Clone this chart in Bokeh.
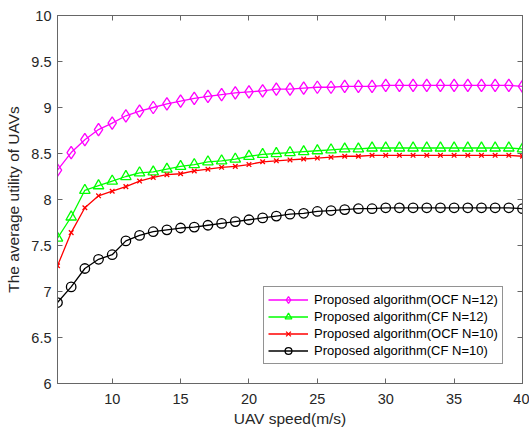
from bokeh.plotting import figure
from bokeh.models import (LinearAxis, FixedTicker, Legend, LegendItem, Range1d,
                          CustomLabelingPolicy)
from bokeh.embed import file_html
from bokeh.resources import INLINE

# ---- data ----
speed = [6, 7, 8, 9, 10, 11, 12, 13, 14, 15, 16, 17, 18, 19, 20, 21, 22, 23,
         24, 25, 26, 27, 28, 29, 30, 31, 32, 33, 34, 35, 36, 37, 38, 39, 40]
ocf_n12 = [8.32, 8.51, 8.65, 8.76, 8.83, 8.91, 8.96, 9.00, 9.04, 9.07, 9.10, 9.12,
           9.14, 9.16, 9.17, 9.18, 9.20, 9.20, 9.21, 9.22, 9.22, 9.23, 9.23, 9.23,
           9.24, 9.24, 9.24, 9.24, 9.24, 9.24, 9.24, 9.24, 9.24, 9.24, 9.23]
cf_n12 = [7.58, 7.81, 8.10, 8.15, 8.20, 8.25, 8.29, 8.30, 8.33, 8.36, 8.38, 8.41,
          8.42, 8.44, 8.47, 8.49, 8.50, 8.51, 8.52, 8.53, 8.54, 8.55, 8.55, 8.56,
          8.56, 8.56, 8.56, 8.56, 8.56, 8.56, 8.56, 8.56, 8.56, 8.56, 8.55]
ocf_n10 = [7.28, 7.64, 7.91, 8.04, 8.09, 8.14, 8.20, 8.24, 8.27, 8.28, 8.31, 8.33,
           8.35, 8.36, 8.38, 8.41, 8.42, 8.43, 8.44, 8.45, 8.46, 8.47, 8.47, 8.48,
           8.48, 8.48, 8.48, 8.48, 8.48, 8.48, 8.48, 8.48, 8.48, 8.48, 8.47]
cf_n10 = [6.88, 7.05, 7.25, 7.35, 7.40, 7.55, 7.61, 7.65, 7.67, 7.69, 7.70, 7.72,
          7.74, 7.76, 7.78, 7.80, 7.82, 7.84, 7.85, 7.87, 7.88, 7.89, 7.90, 7.90,
          7.91, 7.91, 7.91, 7.91, 7.91, 7.91, 7.91, 7.91, 7.91, 7.91, 7.90]
series_labels = ["Proposed algorithm(OCF N=12)", "Proposed algorithm(CF N=12)",
                 "Proposed algorithm(OCF N=10)", "Proposed algorithm(CF N=10)"]
x_ticks = [10, 15, 20, 25, 30, 35, 40]
x_tick_labels = ["10", "15", "20", "25", "30", "35", "40"]
y_ticks = [6, 6.5, 7, 7.5, 8, 8.5, 9, 9.5, 10]
y_tick_labels = ["6", "6.5", "7", "7.5", "8", "8.5", "9", "9.5", "10"]

FONT = "Liberation Sans"
AX_COLOR = "#666666"
TXT_COLOR = "#262626"

p = figure(width=529, height=430, output_backend="svg", toolbar_location=None,
           x_range=Range1d(6, 40), y_range=Range1d(6, 10),
           min_border_left=57, min_border_right=7, min_border_top=15,
           min_border_bottom=47, x_axis_location=None, y_axis_location=None)
p.grid.visible = False
p.outline_line_color = AX_COLOR
p.outline_line_width = 1
p.background_fill_color = "white"
p.border_fill_color = "white"

hide_all = CustomLabelingPolicy(code="""
    for (const i of Array.from(indices)) { indices.unset(i) }
    return indices
""")


def style_axis(ax, ticks, labels, show_labels):
    ax.ticker = FixedTicker(ticks=ticks)
    ax.major_label_overrides = {t: l for t, l in zip(ticks, labels)}
    ax.axis_line_color = AX_COLOR
    ax.major_tick_line_color = AX_COLOR
    ax.major_tick_in = 5
    ax.major_tick_out = 0
    ax.minor_tick_line_color = None
    ax.major_label_text_font = FONT
    ax.major_label_text_color = TXT_COLOR
    ax.axis_label_text_font = FONT
    ax.axis_label_text_color = TXT_COLOR
    ax.axis_label_text_font_style = "normal"
    ax.axis_label_text_font_size = "15.5px"
    if show_labels:
        ax.major_label_text_font_size = "14.5px"
    else:
        ax.major_label_text_font_size = "0px"
        ax.major_label_policy = hide_all
        ax.major_label_standoff = 0


xb = LinearAxis(axis_label="UAV speed(m/s)")
style_axis(xb, x_ticks, x_tick_labels, True)
xb.major_label_standoff = 10
xb.axis_label_standoff = 3
p.add_layout(xb, "below")

yl = LinearAxis(axis_label="The average utility of UAVs")
style_axis(yl, y_ticks, y_tick_labels, True)
yl.major_label_standoff = 6
yl.axis_label_standoff = 6
p.add_layout(yl, "left")

xt = LinearAxis()
style_axis(xt, x_ticks, x_tick_labels, False)
p.add_layout(xt, "above")

yr = LinearAxis()
style_axis(yr, y_ticks, y_tick_labels, False)
p.add_layout(yr, "right")

LW = 1.3
specs = [
    (ocf_n12, "#FF00FF", "diamond", 12.5),
    (cf_n12, "#00FF00", "triangle", 10.5),
    (ocf_n10, "#FF0000", "x", 6.5),
    (cf_n10, "#000000", "circle", 9.5),
]
items = []
for (vals, col, mk, sz), lab in zip(specs, series_labels):
    r1 = p.line(speed, vals, line_color=col, line_width=LW)
    r2 = p.scatter(speed, vals, marker=mk, size=sz, line_color=col,
                   line_width=LW, fill_color=None)
    items.append(LegendItem(label=lab, renderers=[r1, r2]))

legend = Legend(items=items, location=(206, 19))
legend.label_text_font = FONT
legend.label_text_font_size = "13px"
legend.label_text_color = "#000000"
legend.border_line_color = TXT_COLOR
legend.border_line_width = 1
legend.background_fill_color = "white"
legend.background_fill_alpha = 1
legend.padding = 4
legend.spacing = 0
legend.margin = 0
legend.glyph_width = 40
legend.glyph_height = 17
legend.label_height = 17
legend.label_standoff = 6
p.add_layout(legend, "center")

open("out.html", "w").write(file_html(p, INLINE))
